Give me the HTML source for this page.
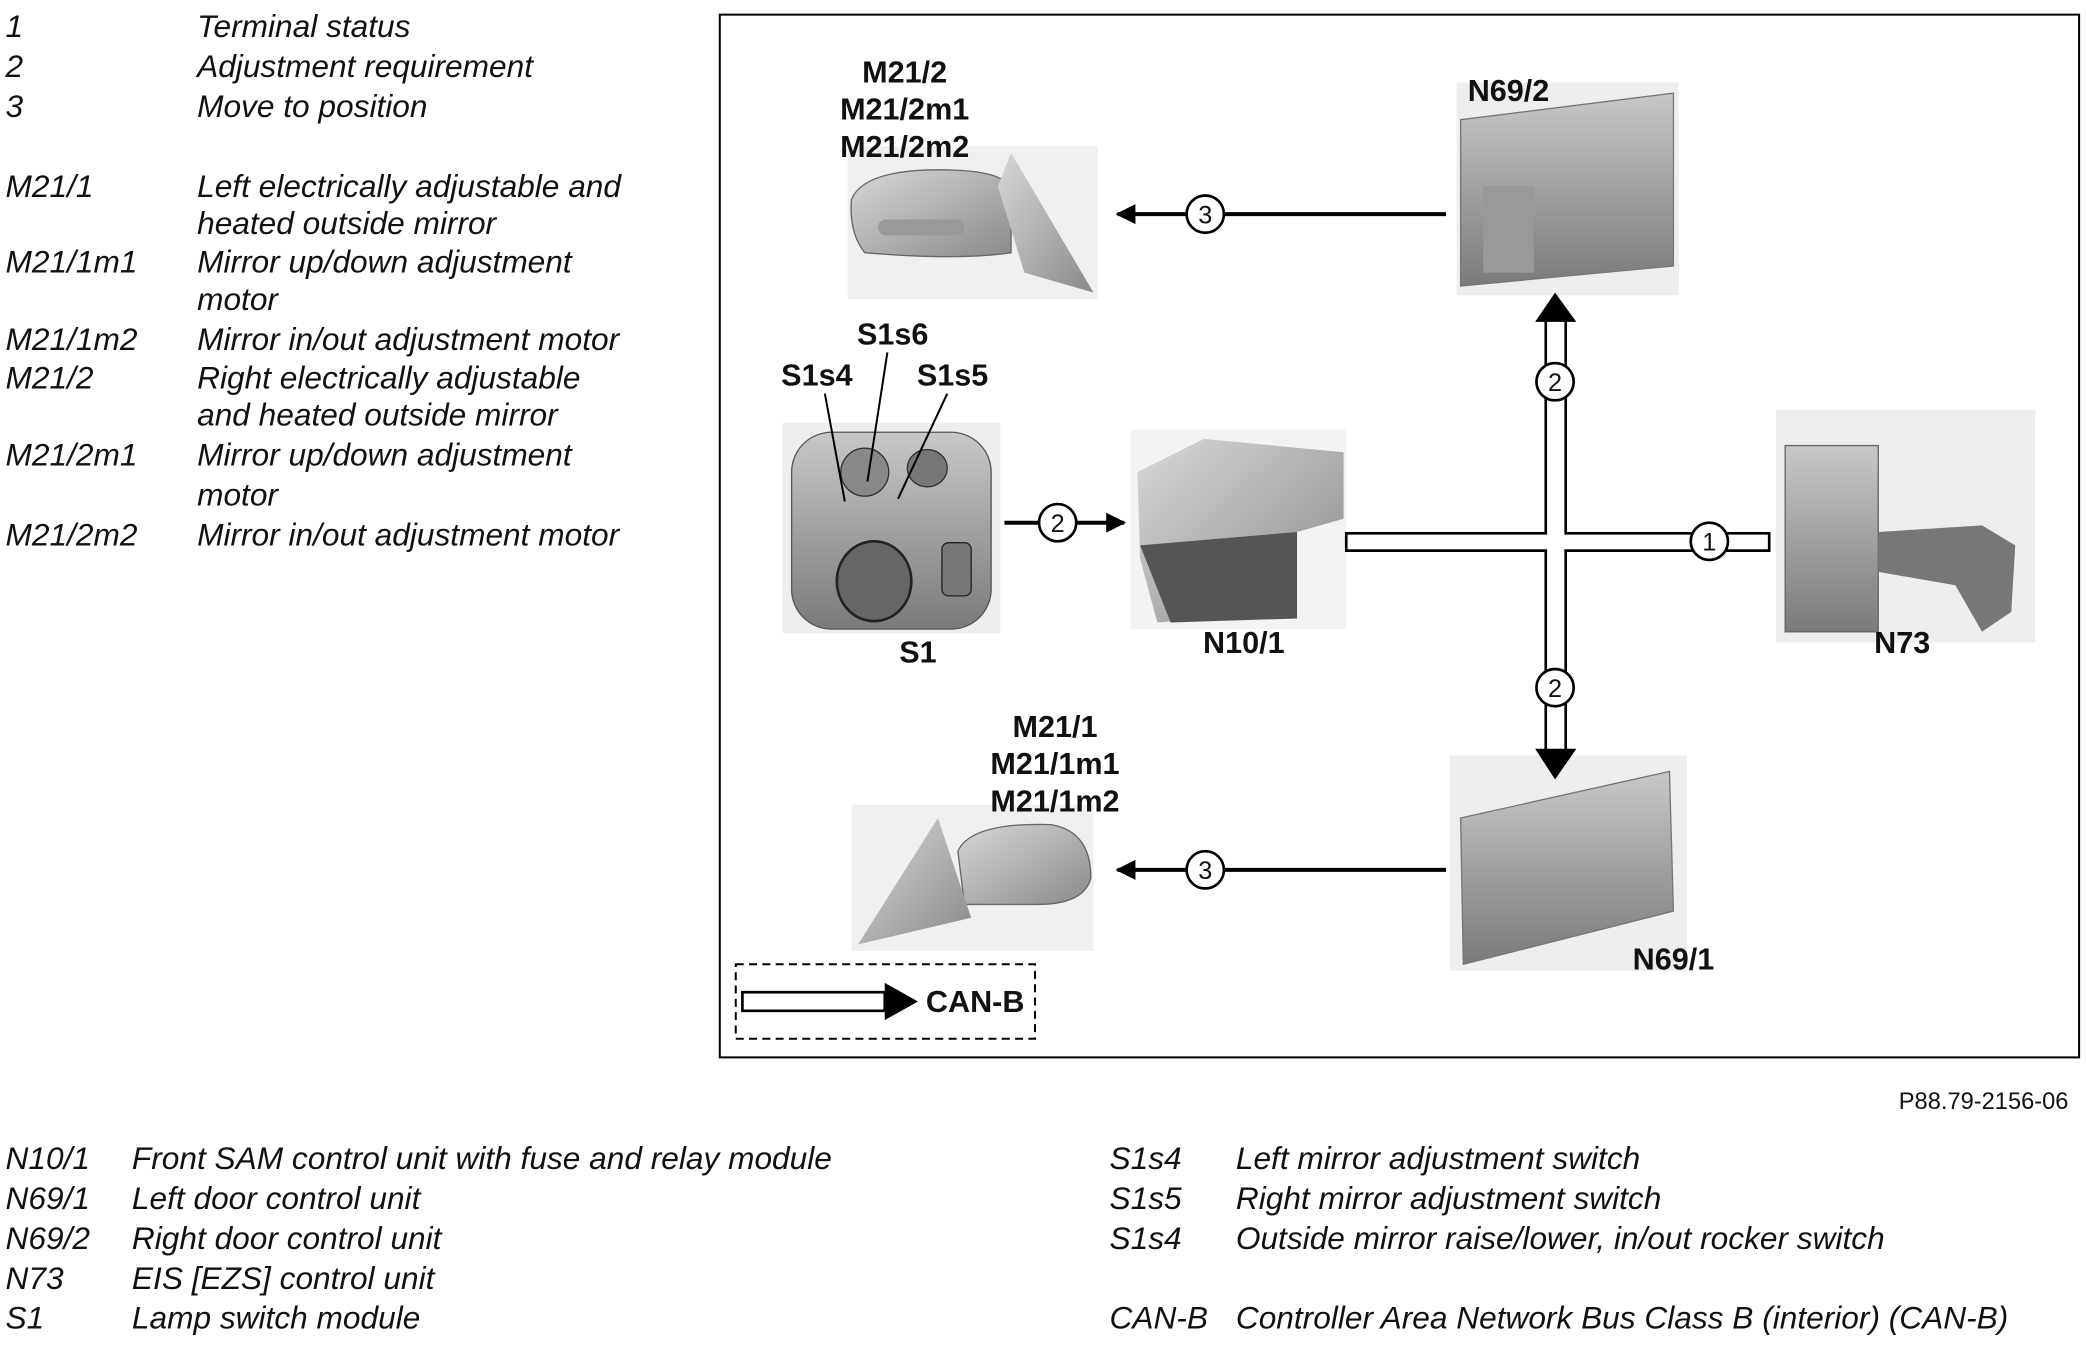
<!DOCTYPE html>
<html><head><meta charset="utf-8"><style>
html,body{margin:0;padding:0;background:#fff;}
svg{display:block;}
.it{font-family:"Liberation Sans",sans-serif;font-style:italic;font-size:23.8px;fill:#111;}
.b{font-family:"Liberation Sans",sans-serif;font-weight:bold;font-size:23px;fill:#111;text-anchor:middle;}
.c{font-family:"Liberation Sans",sans-serif;font-size:19px;fill:#111;text-anchor:middle;}
</style></head><body>
<svg width="2086" height="1346" viewBox="0 0 1568 1012" xmlns="http://www.w3.org/2000/svg">
<defs>
<linearGradient id="g1" x1="0" y1="0" x2="1" y2="1"><stop offset="0" stop-color="#d8d8d8"/><stop offset="1" stop-color="#8a8a8a"/></linearGradient>
<linearGradient id="g2" x1="0" y1="0" x2="0" y2="1"><stop offset="0" stop-color="#c8c8c8"/><stop offset="1" stop-color="#7a7a7a"/></linearGradient>
<marker id="ah" viewBox="0 0 10 10" refX="9" refY="5" markerWidth="5" markerHeight="5" orient="auto"><path d="M0,0L10,5L0,10z" fill="#000"/></marker>
</defs>
<g class="it">
<text x="4" y="28">1</text><text x="148" y="28">Terminal status</text>
<text x="4" y="58">2</text><text x="148" y="58">Adjustment requirement</text>
<text x="4" y="88">3</text><text x="148" y="88">Move to position</text>
<text x="4" y="148">M21/1</text><text x="148" y="148">Left electrically adjustable and</text>
<text x="148" y="176">heated outside mirror</text>
<text x="4" y="205">M21/1m1</text><text x="148" y="205">Mirror up/down adjustment</text>
<text x="148" y="233">motor</text>
<text x="4" y="263">M21/1m2</text><text x="148" y="263">Mirror in/out adjustment motor</text>
<text x="4" y="292">M21/2</text><text x="148" y="292">Right electrically adjustable</text>
<text x="148" y="320">and heated outside mirror</text>
<text x="4" y="350">M21/2m1</text><text x="148" y="350">Mirror up/down adjustment</text>
<text x="148" y="380">motor</text>
<text x="4" y="410">M21/2m2</text><text x="148" y="410">Mirror in/out adjustment motor</text>
<text x="4" y="879">N10/1</text><text x="99" y="879">Front SAM control unit with fuse and relay module</text>
<text x="4" y="909">N69/1</text><text x="99" y="909">Left door control unit</text>
<text x="4" y="939">N69/2</text><text x="99" y="939">Right door control unit</text>
<text x="4" y="969">N73</text><text x="99" y="969">EIS [EZS] control unit</text>
<text x="4" y="999">S1</text><text x="99" y="999">Lamp switch module</text>
<text x="834" y="879">S1s4</text><text x="929" y="879">Left mirror adjustment switch</text>
<text x="834" y="909">S1s5</text><text x="929" y="909">Right mirror adjustment switch</text>
<text x="834" y="939">S1s4</text><text x="929" y="939">Outside mirror raise/lower, in/out rocker switch</text>
<text x="834" y="999">CAN-B</text><text x="929" y="999">Controller Area Network Bus Class B (interior) (CAN-B)</text>
</g>
<text x="1555" y="834" font-family="Liberation Sans,sans-serif" font-size="17.8" text-anchor="end" fill="#111">P88.79-2156-06</text>
<rect x="541" y="11" width="1022" height="784" fill="none" stroke="#000" stroke-width="1.5"/>
<rect x="637" y="110" width="188" height="115" fill="#f0f0f0"/>
<path d="M640,150 Q650,125 720,128 Q760,130 760,145 L760,190 Q720,196 650,190 Q638,175 640,150z" fill="url(#g1)" stroke="#666"/>
<path d="M750,140 L760,115 L822,220 L770,205 z" fill="url(#g1)"/>
<rect x="660" y="165" width="65" height="12" rx="6" fill="#999"/>
<rect x="1095" y="62" width="167" height="160" fill="#eee"/>
<path d="M1098,90 L1258,70 L1258,200 L1098,215z" fill="url(#g2)" stroke="#777"/>
<rect x="1115" y="140" width="38" height="65" fill="#999"/>
<rect x="588" y="318" width="164" height="158" fill="#eee"/>
<rect x="595" y="325" width="150" height="148" rx="30" fill="url(#g2)" stroke="#555"/>
<ellipse cx="650" cy="355" rx="18" ry="18" fill="#888" stroke="#333"/>
<ellipse cx="697" cy="352" rx="15" ry="14" fill="#777" stroke="#333"/>
<ellipse cx="657" cy="437" rx="28" ry="30" fill="#666" stroke="#222" stroke-width="2"/>
<rect x="708" y="408" width="22" height="40" rx="5" fill="#777" stroke="#222"/>
<rect x="850" y="323" width="162" height="150" fill="#f3f3f3"/>
<path d="M855,355 L905,330 L1010,340 L1010,390 L975,400 L975,460 L870,468 L857,420z" fill="url(#g1)"/>
<path d="M857,410 L975,400 L975,465 L880,468z" fill="#555"/>
<rect x="1335" y="308" width="195" height="175" fill="#eee"/>
<rect x="1342" y="335" width="70" height="140" fill="url(#g2)" stroke="#666"/>
<path d="M1412,400 L1490,395 L1515,410 L1512,460 L1490,475 L1470,440 L1412,430z" fill="#777"/>
<rect x="1090" y="568" width="178" height="162" fill="#eee"/>
<path d="M1098,615 L1255,580 L1258,685 L1100,725z" fill="url(#g2)" stroke="#777"/>
<rect x="640" y="605" width="182" height="110" fill="#f0f0f0"/>
<path d="M720,640 Q730,618 790,620 Q820,625 820,660 Q815,680 780,680 L725,680z" fill="url(#g1)" stroke="#666"/>
<path d="M645,710 L705,615 L720,660 L730,690z" fill="url(#g1)"/>
<g class="b">
<text x="680" y="62">M21/2</text><text x="680" y="90">M21/2m1</text><text x="680" y="118">M21/2m2</text>
<text x="1134" y="76">N69/2</text>
<text x="614" y="290">S1s4</text><text x="671" y="259">S1s6</text><text x="716" y="290">S1s5</text>
<text x="690" y="498">S1</text><text x="935" y="491">N10/1</text><text x="1430" y="491">N73</text>
<text x="793" y="554">M21/1</text><text x="793" y="582">M21/1m1</text><text x="793" y="610">M21/1m2</text>
<text x="1258" y="729">N69/1</text>
</g>
<g stroke="#000" stroke-width="1.5">
<line x1="620" y1="296" x2="635" y2="377"/><line x1="667" y1="265" x2="652" y2="362"/><line x1="712" y1="296" x2="675" y2="375"/>
</g>
<line x1="1087" y1="161" x2="840" y2="161" stroke="#000" stroke-width="3" marker-end="url(#ah)"/>
<line x1="1087" y1="654" x2="840" y2="654" stroke="#000" stroke-width="3" marker-end="url(#ah)"/>
<line x1="755" y1="393" x2="845" y2="393" stroke="#000" stroke-width="3" marker-end="url(#ah)"/>
<path d="M1012,401 L1162,401 L1162,240 L1177,240 L1177,401 L1330,401 L1330,414 L1177,414 L1177,565 L1162,565 L1162,414 L1012,414z" fill="#fff" stroke="#000" stroke-width="2"/>
<path d="M1154,242 L1169,220 L1185,242z" fill="#000"/>
<path d="M1154,563 L1169,586 L1185,563z" fill="#000"/>
<g fill="#fff" stroke="#000" stroke-width="2">
<circle cx="906" cy="161" r="14"/><circle cx="906" cy="654" r="14"/><circle cx="795" cy="393" r="14"/>
<circle cx="1169" cy="287" r="14"/><circle cx="1169" cy="517" r="14"/><circle cx="1285" cy="407" r="14"/>
</g>
<g class="c">
<text x="906" y="168">3</text><text x="906" y="661">3</text><text x="795" y="400">2</text>
<text x="1169" y="294">2</text><text x="1169" y="524">2</text><text x="1285" y="414">1</text>
</g>
<rect x="553" y="725" width="225" height="56" fill="none" stroke="#000" stroke-width="1.5" stroke-dasharray="6,4"/>
<rect x="558" y="746" width="107" height="14" fill="#fff" stroke="#000" stroke-width="2"/>
<path d="M665,739 L690,753 L665,767z" fill="#000"/>
<text x="733" y="761" class="b">CAN-B</text>
</svg>
</body></html>
